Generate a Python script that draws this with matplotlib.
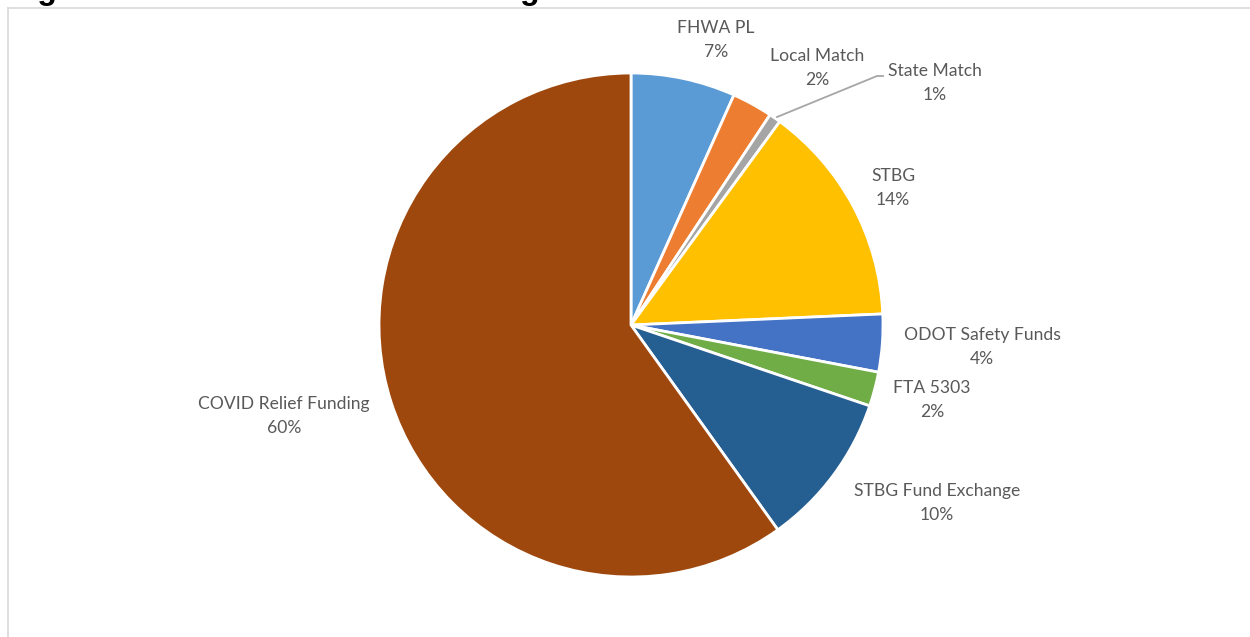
import matplotlib
matplotlib.use("Agg")
import matplotlib.pyplot as plt
from matplotlib.lines import Line2D

categories = ["FHWA PL", "Local Match", "State Match", "STBG", "ODOT Safety Funds",
              "FTA 5303", "STBG Fund Exchange", "COVID Relief Funding"]
shares = [6.7, 2.6, 0.75, 14.25, 3.7, 2.2, 9.9, 59.9]
pct_labels = ["7%", "2%", "1%", "14%", "4%", "2%", "10%", "60%"]
colors = ["#5B9BD5", "#ED7D31", "#A5A5A5", "#FFC000", "#4472C4",
          "#70AD47", "#255E91", "#9E480E"]
title = "Figure 3: Grant and Match Funding Chart FY 2022"

# label centre positions (pixels from top-left) - layout only
label_pos = [(716, 40), (817, 68), (935, 83), (893, 188), (982, 347),
             (932, 400), (937, 503), (284, 416)]

W, H = 1250, 637
fig = plt.figure(figsize=(W / 100, H / 100), dpi=100)
fig.patch.set_facecolor("white")

cx, cy, r = 631, 325, 252
ax = fig.add_axes([(cx - r) / W, (H - cy - r) / H, 2 * r / W, 2 * r / H])
ax.pie(shares, colors=colors, startangle=90, counterclock=False, radius=1,
       wedgeprops=dict(edgecolor="white", linewidth=2))
ax.set_xlim(-1, 1)
ax.set_ylim(-1, 1)
ax.set_aspect("equal")
ax.axis("off")

font = "Lato"
for name, pct, (px, py) in zip(categories, pct_labels, label_pos):
    fig.text(px / W, 1 - py / H, f"{name}\n{pct}", ha="center", va="center",
             fontsize=12.6, color="#595959", family=font, linespacing=1.62)

# leader line for State Match
fig.add_artist(Line2D([777 / W, 877 / W, 883 / W],
                      [1 - 117 / H, 1 - 76 / H, 1 - 76 / H],
                      color="#A6A6A6", lw=1.3))

# chart frame
fig.add_artist(Line2D([8 / W, 1], [1 - 8 / H, 1 - 8 / H], color="#D9D9D9", lw=1.2))
fig.add_artist(Line2D([8 / W, 8 / W], [1 - 8 / H, 0], color="#D9D9D9", lw=1.2))

# partially visible title (cut off at the top edge, as in the source image)
fig.text(9 / W, 1 + 1 / H, title, ha="left", va="baseline", fontsize=23,
         fontweight="bold", family="Liberation Sans", color="black")

fig.savefig("out.png", dpi=100)
